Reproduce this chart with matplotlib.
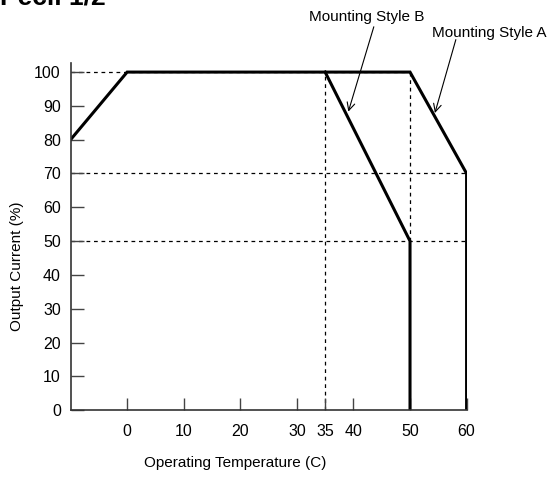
import matplotlib
matplotlib.use("Agg")
import matplotlib.pyplot as plt

plt.rcParams["font.family"] = ["Liberation Sans", "DejaVu Sans"]

# derating curves (temperature C, output current %)
style_a_temp = [-10, 0, 50, 60, 60]
style_a_current = [80, 100, 100, 70, 0]
style_b_temp = [35, 50, 50]
style_b_current = [100, 50, 0]

x_ticks = [0, 10, 20, 30, 35, 40, 50, 60]
y_ticks = [0, 10, 20, 30, 40, 50, 60, 70, 80, 90, 100]

# dashed guide lines
h_guides = [(100, -10, 50), (70, -10, 60), (50, -10, 60)]
v_guides = [(35, 0, 100), (50, 50, 100)]

fig = plt.figure(figsize=(5.47, 4.78), dpi=100)
ax = fig.add_axes([0.129, 0.142, 0.724, 0.727])

for y, x0, x1 in h_guides:
    ax.plot([x0, x1], [y, y], color="black", lw=0.9, ls=(0, (3, 3)), zorder=1)
for x, y0, y1 in v_guides:
    ax.plot([x, x], [y0, y1], color="black", lw=0.9, ls=(0, (3, 3)), zorder=1)

ax.plot(style_a_temp, style_a_current, color="black", lw=2.2, solid_joinstyle="miter", zorder=3)
ax.plot(style_b_temp, style_b_current, color="black", lw=2.2, solid_joinstyle="miter", zorder=3)

ax.set_xlim(-10, 60)
ax.set_ylim(0, 102.8)
ax.set_xticks(x_ticks)
ax.set_yticks(y_ticks)
ax.tick_params(direction="in", length=9, width=1, color="#444444", labelsize=11.5, pad=7)
ax.tick_params(axis="x", pad=10)
for side in ["top", "right"]:
    ax.spines[side].set_visible(False)
for side in ["left", "bottom"]:
    ax.spines[side].set_linewidth(1.2)
    ax.spines[side].set_color("#333333")
    ax.spines[side].set_zorder(4)

ax.set_xlabel("Operating Temperature (C)", fontsize=11)
ax.set_ylabel("Output Current (%)", fontsize=11)
ax.xaxis.set_label_coords(0.415, -0.133)
ax.yaxis.set_label_coords(-0.118, 0.414)

arrow = dict(arrowstyle="->", color="black", lw=0.8, mutation_scale=14, shrinkA=0, shrinkB=0)
ax.text(42.3, 116.4, "Mounting Style B", ha="center", va="center", fontsize=11, clip_on=False)
ax.annotate("", xy=(39.1, 88.3), xytext=(43.6, 113.4), arrowprops=arrow, annotation_clip=False)
ax.text(64.0, 111.5, "Mounting Style A", ha="center", va="center", fontsize=11, clip_on=False)
ax.annotate("", xy=(54.4, 87.9), xytext=(58.1, 109.6), arrowprops=arrow, annotation_clip=False)

# heading clipped by the top edge, as in the source scan
fig.text(0.0, 1.005, "Pecil 1/2", fontsize=19, fontweight="bold", ha="left", va="center")

fig.savefig("out.png", dpi=100)
